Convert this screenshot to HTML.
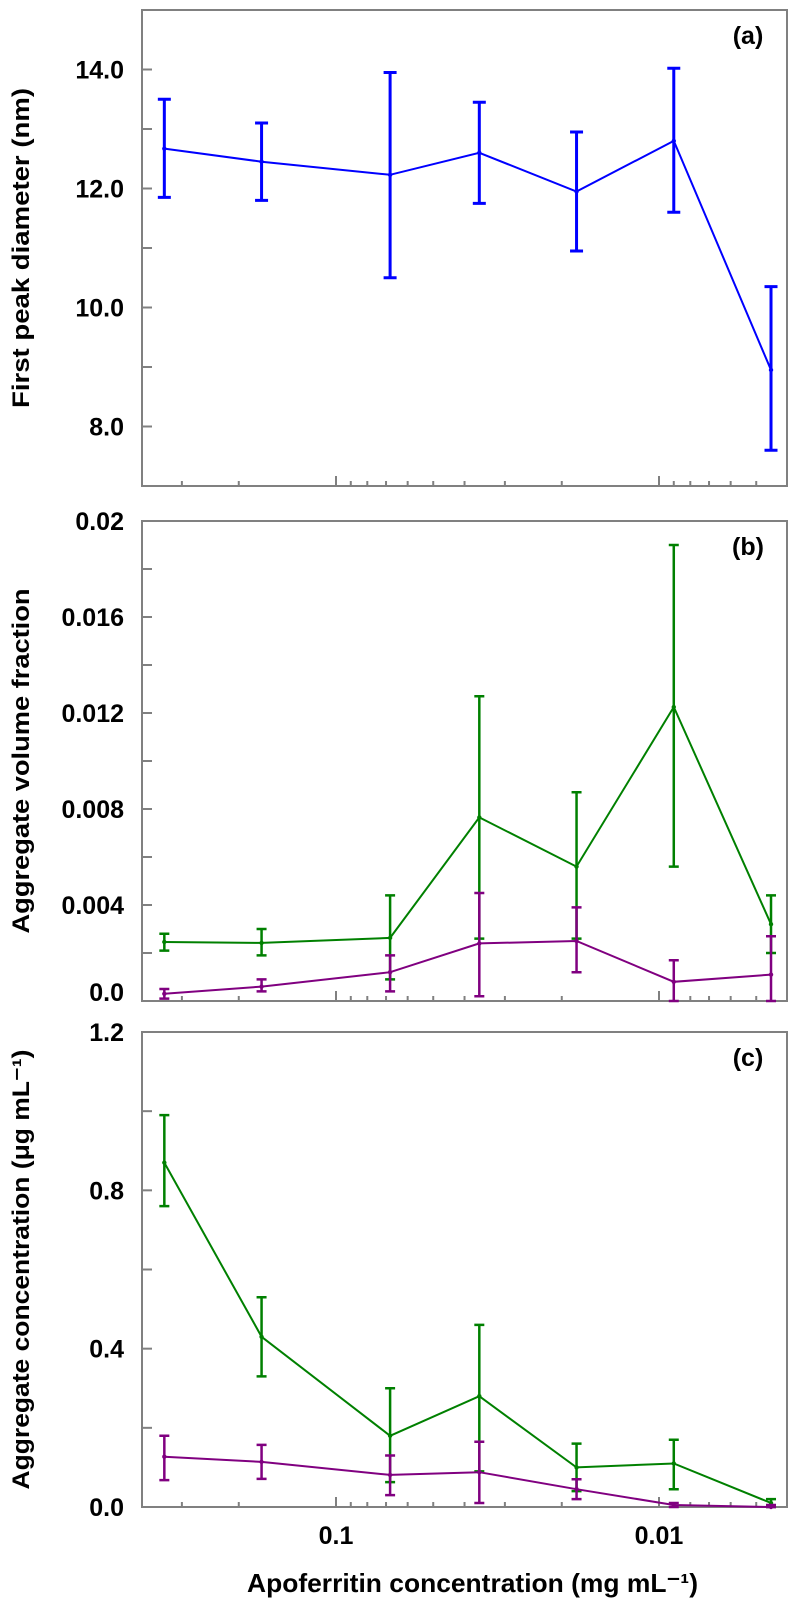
<!DOCTYPE html>
<html><head><meta charset="utf-8"><style>
html,body{margin:0;padding:0;background:#fff;}
svg{display:block;}
text{font-family:"Liberation Sans",Arial,sans-serif;font-weight:bold;fill:#000;}
</style></head><body>
<svg id="chart" width="798" height="1606" viewBox="0 0 798 1606" xmlns="http://www.w3.org/2000/svg"></svg>
<script>
const concentrations = [0.34, 0.17, 0.068, 0.036, 0.018, 0.009, 0.0045];
const diamMean = [12.67, 12.45, 12.23, 12.6, 11.95, 12.8, 8.95];
const diamHi   = [13.5, 13.1, 13.95, 13.45, 12.95, 14.02, 10.35];
const diamLo   = [11.85, 11.8, 10.5, 11.75, 10.95, 11.6, 7.6];
const volGreenMean = [0.00246, 0.00242, 0.00263, 0.00765, 0.0056, 0.01225, 0.0032];
const volGreenHi   = [0.0028, 0.003, 0.0044, 0.0127, 0.0087, 0.019, 0.0044];
const volGreenLo   = [0.0021, 0.0019, 0.0009, 0.0026, 0.0026, 0.0056, 0.002];
const volPurpleMean = [0.0003, 0.0006, 0.0012, 0.0024, 0.0025, 0.0008, 0.0011];
const volPurpleHi   = [0.0005, 0.0009, 0.0019, 0.0045, 0.0039, 0.0017, 0.0027];
const volPurpleLo   = [0.0001, 0.0004, 0.0004, 0.0002, 0.0012, 0.0, 0.0];
const concGreenMean = [0.87, 0.43, 0.18, 0.28, 0.10, 0.11, 0.01];
const concGreenHi   = [0.99, 0.53, 0.30, 0.46, 0.16, 0.17, 0.02];
const concGreenLo   = [0.76, 0.33, 0.063, 0.09, 0.04, 0.045, 0.0];
const concPurpleMean = [0.127, 0.114, 0.081, 0.088, 0.045, 0.005, 0.0];
const concPurpleHi   = [0.18, 0.157, 0.13, 0.165, 0.07, 0.01, 0.005];
const concPurpleLo   = [0.068, 0.071, 0.03, 0.01, 0.02, 0.0, 0.0];
const diamTicks = [8, 10, 12, 14];
const diamTickLabels = ["8.0", "10.0", "12.0", "14.0"];
const volTicks = [0, 0.004, 0.008, 0.012, 0.016, 0.02];
const volTickLabels = ["0.0", "0.004", "0.008", "0.012", "0.016", "0.02"];
const concTicks = [0, 0.4, 0.8, 1.2];
const concTickLabels = ["0.0", "0.4", "0.8", "1.2"];
const xMajor = [0.1, 0.01];
const xMajorLabels = ["0.1", "0.01"];
const xMinor = [0.3,0.2,0.09,0.08,0.07,0.06,0.05,0.04,0.03,0.02,0.009,0.008,0.007,0.006,0.005];

const NS = "http://www.w3.org/2000/svg";
const svg = document.getElementById("chart");
const L = 142, R = 787;
function xs(v){ return 336 + 323 * Math.log10(0.1 / v); }
function mk(tag, attrs, parent){
  const e = document.createElementNS(NS, tag);
  for (const k in attrs) e.setAttribute(k, attrs[k]);
  (parent || svg).appendChild(e);
  return e;
}
function panel(name, top, bot, vmin, vmax, ticks, labels, minorStep, title, titleLen, letter, zeroLabelShift){
  const g = mk("g", {});
  
  
  const ys = v => bot - (v - vmin) / (vmax - vmin) * (bot - top);
  const fr = mk("rect", {x:L, y:top, width:R-L, height:bot-top, fill:"none", stroke:"#808080", "stroke-width":2}, g);
  
  
  for (let v = vmin; v <= vmax + 1e-9; v += minorStep) {
    const y = ys(v);
    if (y <= top + 1 || y >= bot - 1) continue;
    const t = mk("line", {x1:L, x2:L+10, y1:y, y2:y, stroke:"#808080", "stroke-width":2}, g);
    
    
  }
  ticks.forEach((v, i) => {
    let y = ys(v) + 9;
    if (v === vmin && zeroLabelShift) y -= zeroLabelShift;
    const t = mk("text", {x:124, y:y, "text-anchor":"end", "font-size":25}, g);
    t.textContent = labels[i];
    
    
  });
  xMajor.forEach(v => {
    const x = xs(v);
    const t = mk("line", {x1:x, x2:x, y1:bot, y2:bot-10, stroke:"#808080", "stroke-width":2}, g);
    
    
  });
  xMinor.forEach(v => {
    const x = xs(v);
    const t = mk("line", {x1:x, x2:x, y1:bot, y2:bot-5, stroke:"#808080", "stroke-width":2}, g);
    
    
  });
  const cy = (top + bot) / 2;
  const tt = mk("text", {x:0, y:0, "text-anchor":"middle", "font-size":24, textLength:titleLen, lengthAdjust:"spacingAndGlyphs", transform:`translate(29 ${cy}) rotate(-90)`}, g);
  tt.textContent = title;
  
  
  const pl = mk("text", {x:748, y:top+34, "text-anchor":"middle", "font-size":25}, g);
  pl.textContent = letter;
  
  
  return {g, ys};
}
function series(p, name, color, mean, hi, lo, lw, ew, cap){
  const g = mk("g", {}, p.g);
  
  
  const pts = concentrations.map((c, i) => xs(c).toFixed(1) + "," + p.ys(mean[i]).toFixed(1)).join(" ");
  const ln = mk("polyline", {points:pts, fill:"none", stroke:color, "stroke-width":lw}, g);
  
  
  concentrations.forEach((c, i) => {
    const x = xs(c), y1 = p.ys(hi[i]), y2 = p.ys(lo[i]);
    const eb = mk("path", {d:`M${x},${y1}V${y2}M${x-cap},${y1}H${x+cap}M${x-cap},${y2}H${x+cap}`, stroke:color, "stroke-width":ew, fill:"none"}, g);
    
    
    const pt = mk("circle", {cx:x, cy:p.ys(mean[i]), r:2.2, fill:color}, g);
    
    
  });
}
const pa = panel("panel-a-diameter", 10, 486, 7, 15, diamTicks, diamTickLabels, 1, "First peak diameter (nm)", 320, "(a)", 0);
series(pa, "diameter-series", "#0000ff", diamMean, diamHi, diamLo, 2, 3, 6.5);
const pb = panel("panel-b-volume-fraction", 521, 1001, 0, 0.02, volTicks, volTickLabels, 0.002, "Aggregate volume fraction", 345, "(b)", 9);
series(pb, "volume-green-series", "#008000", volGreenMean, volGreenHi, volGreenLo, 2, 2.5, 5);
series(pb, "volume-purple-series", "#800080", volPurpleMean, volPurpleHi, volPurpleLo, 2, 2.5, 5);
const pc = panel("panel-c-concentration", 1032, 1507, 0, 1.2, concTicks, concTickLabels, 0.2, "Aggregate concentration (μg mL⁻¹)", 440, "(c)", 0);
series(pc, "concentration-green-series", "#008000", concGreenMean, concGreenHi, concGreenLo, 2, 2.5, 5);
series(pc, "concentration-purple-series", "#800080", concPurpleMean, concPurpleHi, concPurpleLo, 2, 2.5, 5);
xMajor.forEach((v, i) => {
  const t = mk("text", {x:xs(v), y:1544, "text-anchor":"middle", "font-size":25});
  t.textContent = xMajorLabels[i];
  
  
});
const xt = mk("text", {x:247, y:1592, "font-size":26, textLength:451, lengthAdjust:"spacingAndGlyphs"});
xt.textContent = "Apoferritin concentration (mg mL⁻¹)";


</script>
</body></html>
